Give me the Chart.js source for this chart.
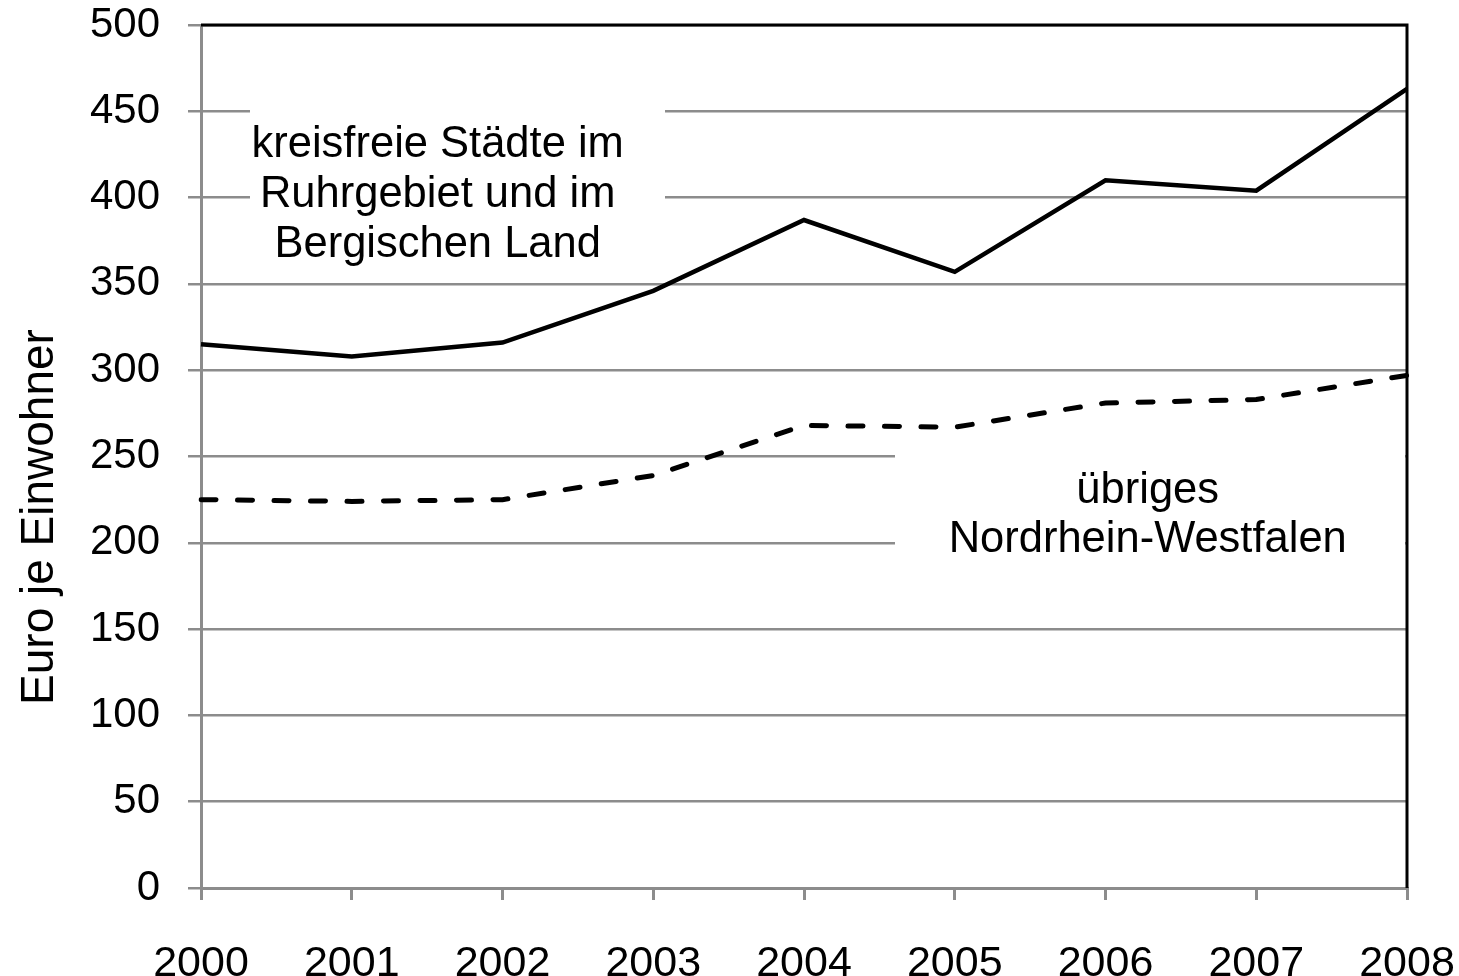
<!DOCTYPE html>
<html>
<head>
<meta charset="utf-8">
<script src="https://cdn.jsdelivr.net/npm/chart.js@4/dist/chart.umd.min.js"></script>
<style>
  html, body { margin: 0; padding: 0; background: #fff; }
  #wrap { width: 1459px; height: 976px; }
</style>
</head>
<body>
<div id="wrap"><canvas id="chart" width="1459" height="976"></canvas></div>
<script>
// Daten
const years = ['2000', '2001', '2002', '2003', '2004', '2005', '2006', '2007', '2008'];
const ruhrValues = [315, 308, 316, 346, 387, 357, 410, 404, 463];
const nrwValues = [225, 224, 225, 239, 268, 267, 281, 283, 297];
const yTicks = [0, 50, 100, 150, 200, 250, 300, 350, 400, 450, 500];

const yTitle = 'Euro je Einwohner';
const ruhrLabel = ['kreisfreie Städte im', 'Ruhrgebiet und im', 'Bergischen Land'];
const nrwLabel = ['übriges', 'Nordrhein-Westfalen'];

const FONT = '"Liberation Sans", Arial, sans-serif';
const GRID = '#8c8c8c';

// Beschriftungen mit weißem Hintergrund + schwarzer Rahmen oben/rechts
const annotations = {
    id: 'annotations',
    beforeDatasetsDraw(chart) {
        const { ctx, chartArea, scales } = chart;
        ctx.save();
        // weiße Boxen über den Gitterlinien
        ctx.fillStyle = '#fff';
        ctx.fillRect(250, 100, 415, 170);
        ctx.fillRect(895, 440, 510, 135);

        ctx.fillStyle = '#000';
        ctx.font = '43.5px ' + FONT;
        ctx.textAlign = 'center';
        ctx.textBaseline = 'middle';
        const x1 = scales.x.getPixelForValue(1.57);
        ruhrLabel.forEach((t, i) => ctx.fillText(t, x1, 145 + i * 50));
        const x2 = scales.x.getPixelForValue(6.28);
        nrwLabel.forEach((t, i) => ctx.fillText(t, x2, 491 + i * 49));

        // Achsentitel
        ctx.save();
        ctx.translate(40, 517);
        ctx.rotate(-Math.PI / 2);
        ctx.font = '46px ' + FONT;
        ctx.fillText(yTitle, 0, 0);
        ctx.restore();

        // Rahmen oben und rechts
        ctx.strokeStyle = '#000';
        ctx.lineWidth = 3;
        ctx.beginPath();
        ctx.moveTo(chartArea.left, chartArea.top);
        ctx.lineTo(chartArea.right, chartArea.top);
        ctx.lineTo(chartArea.right, chartArea.bottom);
        ctx.stroke();
        ctx.restore();
    }
};

new Chart(document.getElementById('chart'), {
    type: 'line',
    data: {
        labels: years,
        datasets: [
            {
                label: 'kreisfreie Städte im Ruhrgebiet und im Bergischen Land',
                data: ruhrValues,
                borderColor: '#000',
                borderWidth: 4.5,
                pointRadius: 0,
                tension: 0,
                fill: false
            },
            {
                label: 'übriges Nordrhein-Westfalen',
                data: nrwValues,
                borderColor: '#000',
                borderWidth: 5,
                borderDash: [15, 21.5],
                borderCapStyle: 'round',
                pointRadius: 0,
                tension: 0,
                fill: false
            }
        ]
    },
    options: {
        responsive: false,
        animation: false,
        devicePixelRatio: 1,
        layout: { padding: { left: 0, right: 52, top: 25, bottom: 0 } },
        plugins: {
            legend: { display: false },
            tooltip: { enabled: false }
        },
        scales: {
            x: {
                type: 'category',
                offset: false,
                grid: {
                    drawOnChartArea: false,
                    drawTicks: true,
                    tickLength: 12,
                    color: GRID,
                    lineWidth: 3
                },
                border: { color: GRID, width: 3 },
                ticks: {
                    color: '#000',
                    font: { family: FONT, size: 43 },
                    padding: 38,
                    maxRotation: 0,
                    autoSkip: false
                },
                afterFit(scale) {
                    scale.height = 88;
                    scale.paddingLeft = 0;
                    scale.paddingRight = 0;
                }
            },
            y: {
                min: 0,
                max: 500,
                afterBuildTicks(scale) {
                    scale.ticks = yTicks.map(v => ({ value: v }));
                },
                grid: {
                    color: GRID,
                    lineWidth: 2.5,
                    drawTicks: true,
                    tickLength: 13
                },
                border: { color: GRID, width: 3 },
                ticks: {
                    color: '#000',
                    font: { family: FONT, size: 42 },
                    padding: 28
                },
                afterFit(scale) {
                    scale.width = 201;
                    scale.paddingTop = 0;
                    scale.paddingBottom = 0;
                }
            }
        }
    },
    plugins: [annotations]
});
</script>
</body>
</html>
